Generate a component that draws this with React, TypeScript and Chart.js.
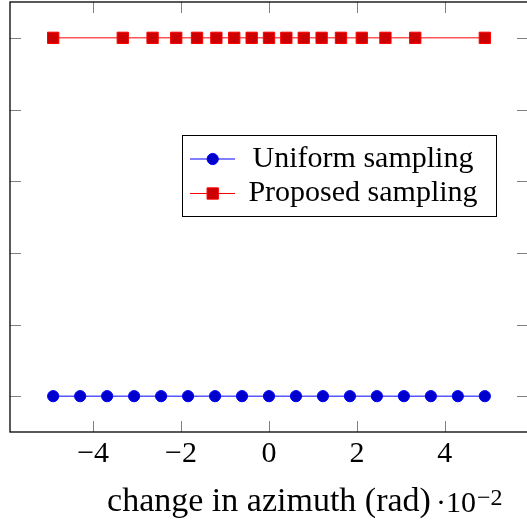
import React, { useEffect, useRef } from "react";
import { Chart, registerables } from "chart.js";

Chart.register(...registerables);

// ---- data (x in units of 10^-2 rad) ----
const uniformX = [-4.909, -4.295, -3.682, -3.068, -2.454, -1.841, -1.227, -0.614, 0, 0.614, 1.227, 1.841, 2.454, 3.068, 3.682, 4.295, 4.909];
const uniformY = [0, 0, 0, 0, 0, 0, 0, 0, 0, 0, 0, 0, 0, 0, 0, 0, 0];
const proposedX = [-4.909, -3.326, -2.648, -2.11, -1.637, -1.197, -0.791, -0.394, 0, 0.394, 0.791, 1.197, 1.637, 2.11, 2.648, 3.326, 4.909];
const proposedY = [1, 1, 1, 1, 1, 1, 1, 1, 1, 1, 1, 1, 1, 1, 1, 1, 1];
const seriesLabels = ["Uniform sampling", "Proposed sampling"];
const xTicks = [-4, -2, 0, 2, 4];
const yTicks = [0, 0.2, 0.4, 0.6, 0.8, 1];
const xRange = [-5.891, 5.891];
const yRange = [-0.1, 1.1];
const xTitle = "change in azimuth (rad)";
const xScaleBase = "\u00B710";
const xScaleExp = "\u22122";

const FONT = "'Liberation Serif', 'DejaVu Serif', serif";
const BLUE_LINE = "#0000ff";
const BLUE_FILL = "#0000cc";
const RED_LINE = "#ff0000";
const RED_FILL = "#cc0000";
const TICK_COLOR = "#808080";

const decorPlugin = {
  id: "decor",
  afterDraw(chart: any) {
    const { ctx, chartArea } = chart;
    const { left, right, top, bottom } = chartArea;
    const xs = chart.scales.x;
    const ys = chart.scales.y;
    const tl = 11;
    ctx.save();
    // inward tick marks
    ctx.strokeStyle = TICK_COLOR;
    ctx.lineWidth = 1;
    ctx.beginPath();
    for (const v of xTicks) {
      const px = Math.round(xs.getPixelForValue(v)) + 0.5;
      ctx.moveTo(px, bottom);
      ctx.lineTo(px, bottom - tl);
      ctx.moveTo(px, top);
      ctx.lineTo(px, top + tl);
    }
    for (const v of yTicks) {
      const py = Math.round(ys.getPixelForValue(v)) + 0.5;
      ctx.moveTo(left, py);
      ctx.lineTo(left + tl, py);
      ctx.moveTo(right, py);
      ctx.lineTo(right - tl, py);
    }
    ctx.stroke();
    // frame
    ctx.strokeStyle = "#000";
    ctx.lineWidth = 1.3;
    ctx.strokeRect(left, top, right - left, bottom - top);

    // legend
    const lx = 182, ly = 135, lw = 314, lh = 81;
    ctx.fillStyle = "#fff";
    ctx.fillRect(lx, ly, lw, lh);
    ctx.strokeStyle = "#000";
    ctx.lineWidth = 1;
    ctx.strokeRect(lx + 0.5, ly + 0.5, lw, lh);
    const rows = [159, 193.5];
    chart.data.datasets.forEach((ds: any, i: number) => {
      const cy = rows[i];
      ctx.strokeStyle = ds.borderColor;
      ctx.lineWidth = 1;
      ctx.beginPath();
      ctx.moveTo(190, cy);
      ctx.lineTo(235, cy);
      ctx.stroke();
      ctx.fillStyle = ds.pointBackgroundColor;
      ctx.strokeStyle = ds.pointBorderColor;
      ctx.beginPath();
      if (ds.pointStyle === "rect") {
        const s = ds.pointRadius * Math.SQRT1_2;
        ctx.rect(212.7 - s, cy - s, 2 * s, 2 * s);
      } else {
        ctx.arc(212.7, cy, ds.pointRadius, 0, Math.PI * 2);
      }
      ctx.fill();
      ctx.stroke();
      ctx.fillStyle = "#000";
      ctx.font = `30px ${FONT}`;
      ctx.textAlign = "center";
      ctx.textBaseline = "alphabetic";
      ctx.fillText(ds.label, 363, cy + 7.5);
    });

    // scale factor next to the axis title
    ctx.font = `34px ${FONT}`;
    const tw = ctx.measureText(xTitle).width;
    const cx = (xs.left + xs.right) / 2;
    const baseY = 512;
    let x0 = cx + tw / 2 + 5;
    ctx.fillStyle = "#000";
    ctx.textAlign = "left";
    ctx.textBaseline = "alphabetic";
    ctx.font = `30px ${FONT}`;
    ctx.fillText(xScaleBase, x0, baseY);
    x0 += ctx.measureText(xScaleBase).width + 1;
    ctx.font = `24px ${FONT}`;
    ctx.fillText(xScaleExp, x0, baseY - 7);
    ctx.restore();
  },
};

export default function App() {
  const ref = useRef<HTMLCanvasElement | null>(null);
  useEffect(() => {
    if (!ref.current) return;
    const chart = new Chart(ref.current, {
      type: "line",
      data: {
        datasets: [
          {
            label: seriesLabels[0],
            data: uniformX.map((x, i) => ({ x, y: uniformY[i] })),
            borderColor: BLUE_LINE,
            backgroundColor: BLUE_FILL,
            pointBackgroundColor: BLUE_FILL,
            pointBorderColor: BLUE_LINE,
            pointBorderWidth: 1,
            pointRadius: 5.6,
            pointStyle: "circle",
            borderWidth: 1,
            tension: 0,
          },
          {
            label: seriesLabels[1],
            data: proposedX.map((x, i) => ({ x, y: proposedY[i] })),
            borderColor: RED_LINE,
            backgroundColor: RED_FILL,
            pointBackgroundColor: RED_FILL,
            pointBorderColor: RED_LINE,
            pointBorderWidth: 1,
            pointRadius: 8,
            pointStyle: "rect",
            borderWidth: 1,
            tension: 0,
          },
        ] as any,
      },
      options: {
        animation: false,
        responsive: false,
        devicePixelRatio: 1,
        layout: { autoPadding: false, padding: { left: 10, right: 12, top: 2, bottom: 0 } },
        plugins: { legend: { display: false }, tooltip: { enabled: false } },
        scales: {
          x: {
            type: "linear",
            min: xRange[0],
            max: xRange[1],
            afterBuildTicks: (s: any) => {
              s.ticks = xTicks.map((v) => ({ value: v }));
            },
            afterFit: (s: any) => {
              s.height = 91;
              s.paddingLeft = 0;
              s.paddingRight = 0;
            },
            grid: { display: false, drawTicks: false },
            border: { display: false },
            ticks: {
              color: "#000",
              font: { family: FONT, size: 30 },
              padding: 4,
              maxRotation: 0,
              autoSkip: false,
              callback: (v: any) => (v < 0 ? "\u2212" + Math.abs(v) : String(v)),
            },
            title: {
              display: true,
              text: xTitle,
              color: "#000",
              font: { family: FONT, size: 34 },
              padding: { top: 0, bottom: 1 },
            },
          },
          y: {
            type: "linear",
            min: yRange[0],
            max: yRange[1],
            afterBuildTicks: (s: any) => {
              s.ticks = yTicks.map((v) => ({ value: v }));
            },
            afterFit: (s: any) => {
              s.width = 0;
              s.paddingTop = 0;
              s.paddingBottom = 0;
            },
            grid: { display: false, drawTicks: false },
            border: { display: false },
            ticks: { display: false },
          },
        },
      } as any,
      plugins: [decorPlugin],
    });
    return () => chart.destroy();
  }, []);

  return (
    <div style={{ position: "fixed", left: 0, top: 0, width: 527, height: 523, overflow: "hidden", background: "#fff" }}>
      <canvas ref={ref} width={540} height={523} style={{ width: 540, height: 523, display: "block" }} />
    </div>
  );
}
